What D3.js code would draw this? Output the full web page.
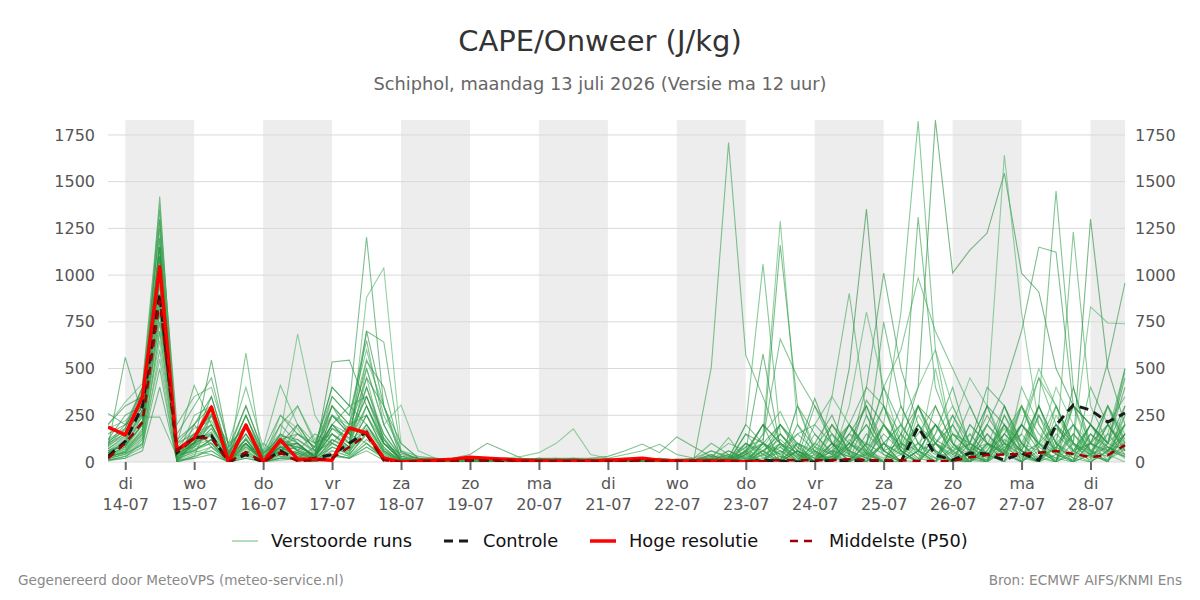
<!DOCTYPE html>
<html lang="nl">
<head>
<meta charset="UTF-8">
<title>CAPE/Onweer (J/kg)</title>
<script src="https://d3js.org/d3.v7.min.js"></script>
<style>
  body { margin: 0; background: #fff; font-family: 'DejaVu Sans', sans-serif; }
  svg { display: block; }
</style>
</head>
<body>
<svg width="1200" height="600"></svg>
<script>
// tijdstappen: elke 6 uur vanaf 13-07 18:00 (60 stappen)
const startTime = new Date(2026, 6, 13, 18);
const nSteps = 60;

const dayNames = ["di", "wo", "do", "vr", "za", "zo", "ma", "di", "wo", "do", "vr", "za", "zo", "ma", "di"];
const dayDates = ["14-07", "15-07", "16-07", "17-07", "18-07", "19-07", "20-07", "21-07", "22-07", "23-07", "24-07", "25-07", "26-07", "27-07", "28-07"];
const yTicks = [0, 250, 500, 750, 1000, 1250, 1500, 1750];

// hoge resolutie (stopt na ~10 dagen)
const hires = "187 145 350 1045 64 128 294 0 198 0 118 15 15 10 182 155 20 0 5 10 15 25 20 15 10 5 5 5 5 10 15 20 10 5 5 5 5 0 0";
const controle = "30 110 300 900 50 130 140 0 40 0 60 10 20 40 100 160 10 0 5 5 10 10 10 5 5 5 5 5 5 10 10 5 5 5 5 5 5 0 10 5 0 0 10 5 10 5 0 187 37 10 48 43 10 48 10 198 305 278 214 262";
const p50 = "20 100 213 865 64 128 128 0 53 0 50 5 10 20 80 145 10 0 5 5 5 10 10 10 5 5 5 5 5 5 5 10 5 5 5 5 5 5 5 10 10 10 10 15 10 10 10 5 5 5 25 37 40 43 50 59 43 27 37 90";

// verstoorde runs
const members = [
  "60 90 200 1420 30 100 250 20 150 0 120 60 30 200 120 300 100 10 5 10 10 15 10 5 5 10 5 5 10 10 5 5 10 15 20 508 1710 572 347 100 20 10 60 30 10 0 150 40 0 80 30 10 120 60 0 40 150 30 10 90",
  "30 50 150 1200 10 60 120 0 80 10 40 200 60 100 40 150 30 0 0 5 10 10 20 10 5 5 5 10 5 5 5 10 5 10 10 10 20 200 1059 150 40 0 30 100 20 0 60 200 50 10 0 90 300 60 20 0 40 100 10 150",
  "100 150 300 900 0 200 350 50 250 20 150 100 20 300 200 500 200 30 10 10 15 20 10 10 20 15 10 10 5 10 20 15 5 10 5 0 10 60 578 80 10 100 250 40 0 200 80 10 300 100 20 0 150 60 250 40 10 200 60 30",
  "20 40 100 700 50 120 200 10 60 0 80 30 10 120 60 880 1038 100 20 10 5 5 10 10 5 5 10 5 5 10 10 5 5 5 10 0 5 30 150 1289 200 30 0 120 50 10 0 250 100 30 0 60 180 40 0 120 300 50 10 70",
  "80 560 250 1100 60 150 100 0 200 30 60 150 80 400 300 200 50 10 5 5 10 10 15 10 10 20 10 5 10 10 10 5 10 10 5 10 0 40 100 1161 300 50 0 80 200 60 10 0 150 400 80 20 250 60 0 180 90 20 300 120",
  "50 100 350 1000 100 410 200 30 100 0 200 300 100 150 80 400 150 20 10 15 10 10 10 20 15 10 10 15 10 10 5 10 20 10 10 20 10 80 120 658 455 300 150 60 20 100 40 200 60 10 0 100 50 300 80 20 150 60 0 200",
  "10 30 80 600 20 50 80 0 40 0 20 50 10 60 30 120 40 0 0 0 5 5 5 5 5 5 0 5 5 5 5 5 0 5 5 0 0 10 40 80 150 200 350 903 250 60 0 100 200 50 10 0 80 150 30 0 60 200 80 20",
  "150 200 300 1300 80 100 300 60 300 50 100 80 40 200 100 700 300 50 20 20 15 10 10 15 10 10 15 20 10 10 10 15 10 10 10 10 20 100 60 0 200 80 40 500 1353 300 60 0 100 200 40 0 300 100 20 80 200 40 0 150",
  "40 80 200 850 40 80 150 0 100 0 60 100 20 80 50 300 80 0 5 10 5 10 10 5 5 10 10 5 5 5 10 5 5 10 5 0 10 20 80 200 100 50 20 300 802 400 100 20 0 150 60 200 80 20 0 250 100 30 200 60",
  "60 120 280 950 0 30 250 100 180 0 150 60 150 100 200 250 100 20 10 5 5 15 10 10 5 5 10 10 5 10 5 10 10 5 10 30 0 50 200 100 20 300 100 60 400 1011 500 200 50 0 100 40 150 300 60 10 100 40 200 80",
  "20 60 180 750 120 200 80 20 50 100 30 20 80 250 150 100 20 0 5 5 10 10 5 10 10 5 5 5 10 10 5 5 10 10 5 0 30 0 100 40 150 60 10 200 80 749 300 100 20 150 60 10 200 40 100 300 60 10 150 40",
  "30 70 150 1050 30 250 300 10 120 10 80 40 20 150 100 450 100 10 10 10 10 5 10 15 10 10 10 5 5 10 10 10 5 5 10 20 60 10 0 100 30 0 150 50 0 200 800 1825 600 100 40 0 200 80 300 100 20 150 60 250",
  "90 180 400 1250 50 120 350 40 200 0 100 200 60 300 150 540 400 50 15 10 10 20 15 10 10 15 20 10 10 15 10 10 10 15 10 0 20 50 0 150 60 20 100 0 250 60 100 400 1830 1011 1134 1225 1546 1011 910 500 300 200 100 450",
  "5 20 120 650 10 40 60 0 30 0 10 20 0 40 20 80 30 0 0 5 5 5 5 5 0 5 5 5 5 5 0 5 5 5 5 0 0 30 0 80 0 40 0 100 50 0 200 400 600 300 100 300 1642 800 200 60 0 100 300 150",
  "120 250 300 1100 100 150 200 30 250 40 200 100 30 350 250 650 200 20 10 15 20 20 10 10 15 10 10 20 10 15 10 10 20 10 10 10 40 0 60 120 40 0 200 100 30 150 60 0 100 250 60 200 400 700 1150 1123 300 200 100 400",
  "40 80 250 1000 20 100 150 20 120 0 60 80 40 120 80 250 60 0 5 5 10 10 10 5 5 10 5 10 5 5 5 5 10 5 5 0 10 0 40 0 100 60 0 80 200 40 0 300 60 0 200 100 50 0 300 1450 400 60 0 300",
  "70 130 220 900 60 80 180 10 80 20 100 120 50 200 100 200 60 10 10 5 10 10 10 10 10 5 5 10 10 5 10 10 5 10 10 40 0 100 20 60 0 150 40 0 100 300 60 0 200 80 300 100 0 400 200 50 1230 300 100 200",
  "200 300 350 1150 40 60 120 0 100 0 80 40 0 80 40 150 20 0 5 10 10 10 5 5 10 10 5 5 10 5 5 10 5 5 10 0 60 20 0 100 50 0 80 200 40 0 150 300 100 0 60 250 100 40 0 200 100 1300 500 200",
  "20 40 120 550 0 20 80 0 40 0 30 10 0 60 30 100 20 0 0 5 5 5 5 0 5 5 5 5 5 5 5 0 5 5 5 0 0 0 20 50 100 0 40 150 60 200 100 20 0 200 450 300 100 200 500 300 100 830 744 740",
  "100 200 400 1350 150 300 450 80 300 60 250 150 80 400 300 350 100 40 20 20 10 15 20 10 15 20 15 10 20 15 10 20 15 10 20 60 20 200 100 0 300 150 50 0 100 400 200 60 0 150 100 300 60 200 100 0 300 200 535 958",
  "30 50 130 800 30 70 100 0 60 0 40 60 20 100 60 180 50 0 5 5 5 5 10 5 5 5 5 5 5 5 5 5 5 5 5 10 0 60 100 30 0 100 40 200 400 300 100 1311 400 150 60 0 250 100 300 60 0 400 200 100",
  "50 110 260 1150 80 180 220 60 150 30 120 90 30 180 100 300 120 20 10 10 15 15 10 5 10 10 10 10 15 10 10 10 10 10 10 30 100 60 0 200 100 0 60 150 100 400 600 985 700 500 300 100 0 200 450 300 100 40 200 350",
  "260 200 250 1000 40 100 200 30 150 10 60 50 20 250 150 400 120 10 15 10 10 10 15 10 10 10 10 10 10 10 10 10 15 10 15 20 0 40 200 0 60 340 100 0 40 200 80 300 120 60 0 200 100 60 300 100 0 150 80 40",
  "40 70 200 950 30 120 150 20 200 60 150 685 250 100 60 150 40 0 5 10 10 10 10 10 5 10 10 10 5 10 10 5 10 10 5 0 20 80 0 60 30 0 350 200 60 20 100 40 500 100 0 80 200 40 100 400 200 60 0 250",
  "60 100 280 1050 60 150 250 40 120 0 100 80 40 200 300 1204 300 20 10 10 10 15 10 10 10 10 10 15 10 10 10 10 10 10 10 0 0 20 60 0 100 40 0 200 80 0 100 60 200 40 100 400 300 100 0 150 60 200 100 500",
  "80 160 320 1200 20 90 180 50 100 20 120 150 100 300 200 700 642 60 10 15 10 10 10 20 10 10 15 10 10 10 10 15 10 10 10 60 30 0 100 40 0 80 200 60 20 100 0 300 200 60 100 40 0 300 150 60 300 100 50 200",
  "10 30 100 700 10 80 100 0 583 0 60 30 0 100 50 200 80 0 5 5 5 5 5 5 5 5 5 5 5 5 5 5 5 5 5 0 10 150 40 0 60 0 30 100 40 0 80 200 60 0 150 40 100 0 80 200 40 0 100 60",
  "120 180 380 1150 60 100 545 80 200 30 80 100 30 535 545 300 100 10 10 10 15 10 10 10 10 15 10 10 10 10 10 10 10 15 10 10 40 0 100 200 60 20 0 150 300 100 0 60 200 100 0 300 200 0 100 200 60 100 300 100",
  "30 80 160 900 50 130 200 20 80 10 250 180 30 150 60 500 200 305 60 20 10 10 10 10 10 5 10 10 10 5 10 10 10 10 5 0 0 60 30 100 0 40 150 0 60 200 40 0 150 300 100 0 60 200 100 0 150 40 300 60",
  "70 140 300 1100 100 200 300 40 250 50 130 60 20 250 180 450 300 100 20 10 10 10 10 10 10 10 10 10 10 15 10 10 10 10 10 20 0 100 40 200 80 0 60 30 0 100 200 60 0 250 100 40 150 60 0 100 200 60 30 150",
  "15 45 90 500 0 30 60 0 20 0 20 10 0 30 20 60 10 0 0 0 5 5 0 5 5 0 0 5 5 0 5 5 0 5 0 0 0 0 0 30 0 0 20 0 50 0 0 60 20 0 40 0 100 30 0 80 20 0 60 100",
  "90 140 240 240 30 60 40 0 50 0 40 20 10 40 20 100 30 0 5 5 10 5 5 10 5 5 5 5 10 5 5 5 5 5 5 0 20 0 60 150 40 0 100 200 60 0 40 100 0 60 150 40 0 100 60 0 200 100 40 80",
  "50 90 200 850 40 100 140 10 100 10 80 70 30 150 80 250 70 10 10 10 20 40 100 60 20 10 10 10 10 10 10 10 10 10 10 40 0 60 200 100 0 60 0 100 300 60 0 200 100 40 0 150 60 200 100 40 0 100 200 60",
  "30 60 140 750 30 60 100 10 70 0 50 40 20 80 40 150 50 0 5 5 10 10 10 20 30 50 100 177 40 20 10 10 5 10 10 0 10 0 40 100 0 60 150 40 0 100 200 60 0 150 100 0 60 300 100 0 60 150 40 0",
  "110 170 260 1000 70 140 260 50 180 40 140 120 60 200 150 350 150 30 20 15 15 20 20 20 15 20 20 20 20 30 60 96 50 134 80 30 20 0 100 60 0 200 100 0 150 60 300 100 40 0 200 100 60 0 250 100 40 200 100 300",
  "25 55 170 800 20 90 120 0 90 0 70 50 10 120 70 200 60 0 5 10 10 10 10 10 5 10 10 10 10 20 40 60 95 40 20 100 40 0 60 150 40 0 200 60 0 100 40 150 300 100 0 60 200 100 0 300 100 0 60 200",
  "180 220 300 1300 200 350 400 100 400 80 410 200 100 350 250 600 250 60 30 20 15 10 10 15 10 10 10 10 10 10 10 10 10 10 10 20 130 10 150 270 80 20 0 100 60 300 150 60 0 200 60 100 40 150 450 200 100 60 150 500",
  "45 100 220 1000 0 110 160 0 130 0 90 100 20 180 130 350 130 10 10 10 5 10 10 10 10 10 10 10 10 10 10 5 10 10 10 0 0 150 100 0 60 0 100 40 330 200 60 0 100 0 50 150 40 200 60 0 400 100 60 150",
  "200 320 420 1380 40 80 250 0 200 0 120 300 120 250 200 550 300 20 10 10 10 10 10 10 10 10 10 10 10 10 10 10 10 10 10 0 40 0 100 0 300 80 0 60 0 200 40 0 100 60 0 200 100 300 100 60 0 40 100 480",
  "10 20 60 400 10 20 40 0 20 0 20 20 0 40 20 80 20 0 0 5 5 0 5 5 0 5 5 5 0 5 5 5 0 5 5 0 0 40 0 20 60 0 30 0 100 40 0 60 100 20 0 100 40 0 60 20 0 40 80 30"
];

const greens = ["#2f9e44", "#3aa655", "#238b3a", "#4cb462", "#2a9448"];

const parse = s => s.trim().split(/\s+/).map(Number);
const times = d3.range(nSteps).map(i => d3.timeHour.offset(startTime, i * 6));

const svg = d3.select("svg");
const plotLeft = 108, plotRight = 1125, plotTop = 120, plotBottom = 462;

const x = d3.scaleTime()
    .domain([times[0], times[nSteps - 1]])
    .range([plotLeft, plotRight]);
const y = d3.scaleLinear()
    .domain([0, 1830])
    .range([plotBottom, plotTop]);

// titel
svg.append("text")
    .attr("x", 600).attr("y", 51)
    .attr("text-anchor", "middle")
    .attr("font-size", 29)
    .attr("fill", "#333")
    .text("CAPE/Onweer (J/kg)");
svg.append("text")
    .attr("x", 600).attr("y", 90)
    .attr("text-anchor", "middle")
    .attr("font-size", 17.8)
    .attr("fill", "#666")
    .text("Schiphol, maandag 13 juli 2026 (Versie ma 12 uur)");

// grijze banden, om de dag
const days = dayDates.map((d, i) => d3.timeDay.offset(new Date(2026, 6, 14), i));
svg.append("g").selectAll("rect")
    .data(days.filter((d, i) => i % 2 === 0))
    .join("rect")
    .attr("x", d => x(d))
    .attr("y", plotTop)
    .attr("width", d => Math.min(x(d3.timeDay.offset(d, 1)), plotRight) - x(d))
    .attr("height", plotBottom - plotTop)
    .attr("fill", "#ededed");

// rasterlijnen
svg.append("g").selectAll("line")
    .data(yTicks)
    .join("line")
    .attr("x1", plotLeft).attr("x2", plotRight)
    .attr("y1", d => y(d)).attr("y2", d => y(d))
    .attr("stroke", "#d9d9d9")
    .attr("stroke-width", 1);

// y-as links en rechts
const yAxisL = svg.append("g")
    .attr("transform", `translate(${plotLeft},0)`)
    .call(d3.axisLeft(y).tickValues(yTicks).tickFormat(d3.format("d")).tickSize(0).tickPadding(13));
const yAxisR = svg.append("g")
    .attr("transform", `translate(${plotRight},0)`)
    .call(d3.axisRight(y).tickValues(yTicks).tickFormat(d3.format("d")).tickSize(0).tickPadding(10));
[yAxisL, yAxisR].forEach(a => {
    a.select(".domain").remove();
    a.selectAll("text")
        .attr("font-family", "'DejaVu Sans', sans-serif")
        .attr("font-size", 16)
        .attr("fill", "#555");
});

// x-as
const xAxis = svg.append("g")
    .attr("transform", `translate(0,${plotBottom})`)
    .call(d3.axisBottom(x).tickValues(days).tickSize(8).tickFormat(""));
xAxis.select(".domain").remove();
xAxis.selectAll(".tick line").attr("stroke", "#666").attr("stroke-width", 2);
xAxis.selectAll(".tick").each(function(d, i) {
    const t = d3.select(this).append("text")
        .attr("fill", "#555")
        .attr("font-family", "'DejaVu Sans', sans-serif")
        .attr("font-size", 16)
        .attr("text-anchor", "middle");
    t.append("tspan").attr("x", 0).attr("y", 27).text(dayNames[i]);
    t.append("tspan").attr("x", 0).attr("y", 48).text(dayDates[i]);
});

const line = d3.line()
    .defined(d => d.v != null)
    .x(d => x(d.t))
    .y(d => y(d.v));
const toPts = arr => arr.map((v, i) => ({t: times[i], v}));

svg.append("clipPath").attr("id", "plot")
    .append("rect").attr("x", plotLeft).attr("y", plotTop - 2)
    .attr("width", plotRight - plotLeft + 1).attr("height", plotBottom - plotTop + 2);

const plot = svg.append("g").attr("clip-path", "url(#plot)");

members.forEach((m, k) => {
    plot.append("path")
        .datum(toPts(parse(m)))
        .attr("fill", "none")
        .attr("stroke", greens[k % greens.length])
        .attr("stroke-opacity", 0.6)
        .attr("stroke-width", 1.1)
        .attr("d", line);
});

plot.append("path")
    .datum(toPts(parse(controle)))
    .attr("fill", "none")
    .attr("stroke", "#1a1a1a")
    .attr("stroke-width", 3)
    .attr("stroke-dasharray", "9,6")
    .attr("d", line);

plot.append("path")
    .datum(toPts(parse(hires)))
    .attr("fill", "none")
    .attr("stroke", "#ff0000")
    .attr("stroke-width", 3.5)
    .attr("stroke-linejoin", "round")
    .attr("d", line);

plot.append("path")
    .datum(toPts(parse(p50)))
    .attr("fill", "none")
    .attr("stroke", "#a00000")
    .attr("stroke-width", 2.5)
    .attr("stroke-dasharray", "8,6")
    .attr("d", line);

// legenda
const legendItems = [
    {label: "Verstoorde runs", x: 232, stroke: "#5cb46c", w: 1, dash: null, op: 0.9},
    {label: "Controle", x: 444, stroke: "#1a1a1a", w: 3, dash: "9,6", op: 1},
    {label: "Hoge resolutie", x: 590, stroke: "#ff0000", w: 3.5, dash: null, op: 1},
    {label: "Middelste (P50)", x: 790, stroke: "#a00000", w: 2.5, dash: "8,6", op: 1}
];
const legend = svg.append("g").attr("transform", "translate(0,541)");
legendItems.forEach(it => {
    legend.append("line")
        .attr("x1", it.x).attr("x2", it.x + 26)
        .attr("y1", 0).attr("y2", 0)
        .attr("stroke", it.stroke)
        .attr("stroke-width", it.w)
        .attr("stroke-opacity", it.op)
        .attr("stroke-dasharray", it.dash);
    legend.append("text")
        .attr("x", it.x + 39).attr("y", 6)
        .attr("font-size", 17.8)
        .attr("fill", "#111")
        .text(it.label);
});

// voettekst
svg.append("text")
    .attr("x", 18).attr("y", 585)
    .attr("font-size", 13.6)
    .attr("fill", "#888")
    .text("Gegenereerd door MeteoVPS (meteo-service.nl)");
svg.append("text")
    .attr("x", 1182).attr("y", 585)
    .attr("text-anchor", "end")
    .attr("font-size", 13.6)
    .attr("fill", "#888")
    .text("Bron: ECMWF AIFS/KNMI Ens");
</script>
</body>
</html>
